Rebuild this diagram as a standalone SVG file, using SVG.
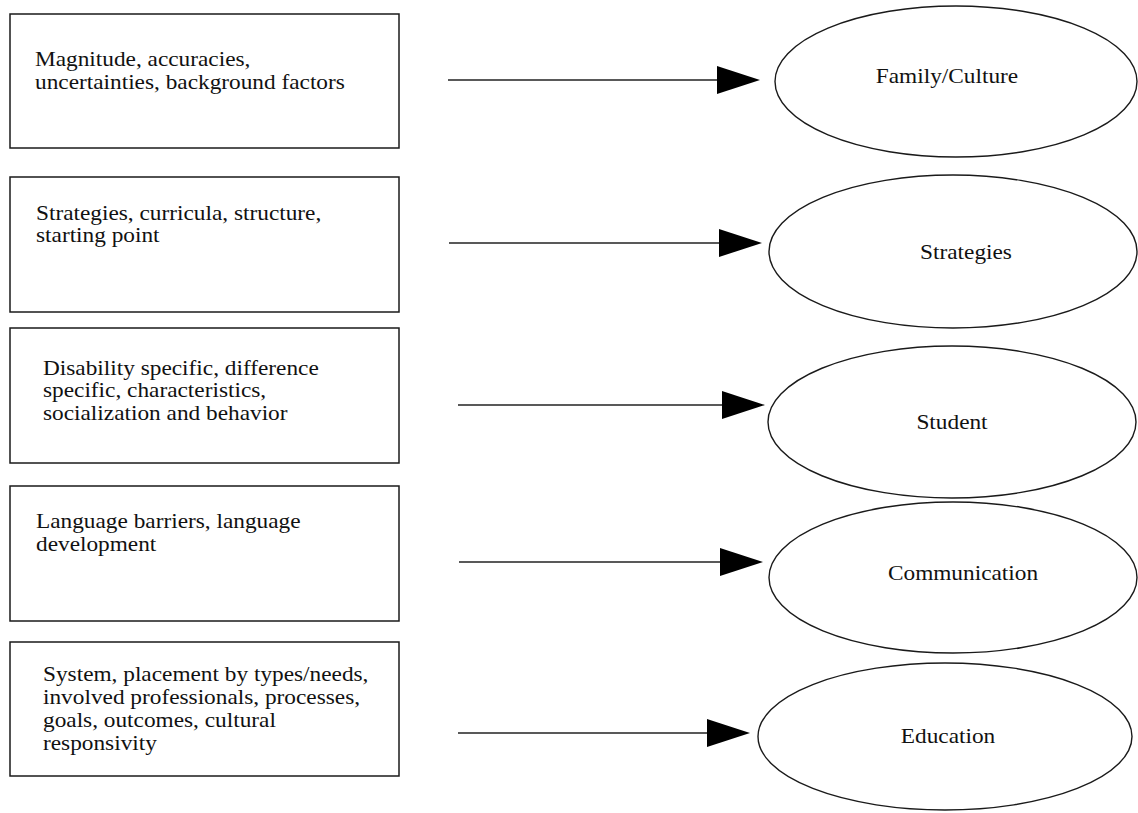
<svg xmlns="http://www.w3.org/2000/svg" width="1138" height="813" viewBox="0 0 1138 813">
<style>
.box{fill:#fff;stroke:#1a1a1a;stroke-width:1.5}
.ell{fill:#fff;stroke:#1a1a1a;stroke-width:1.4}
.t{font-family:"Liberation Serif","Times New Roman",serif;font-size:21px;fill:#111}
.c{text-anchor:middle}
.conn{stroke:#222;stroke-width:1.5;fill:none}
</style>
<defs>
<marker id="ah" markerUnits="userSpaceOnUse" markerWidth="44" markerHeight="28" refX="0" refY="14" orient="auto">
<path d="M0,0 L43,14 L0,28 Z" fill="#000"/>
</marker>
</defs>
<rect width="1138" height="813" fill="#fff"/>
<g id="connectors">
<line class="conn" x1="448" y1="80" x2="717" y2="80" marker-end="url(#ah)"/>
<line class="conn" x1="449" y1="243" x2="719" y2="243" marker-end="url(#ah)"/>
<line class="conn" x1="458" y1="405" x2="722" y2="405" marker-end="url(#ah)"/>
<line class="conn" x1="459" y1="562" x2="720" y2="562" marker-end="url(#ah)"/>
<line class="conn" x1="458" y1="733" x2="707" y2="733" marker-end="url(#ah)"/>
</g>
<g id="box1"><rect class="box" x="10" y="14" width="389" height="134"/>
<g transform="translate(35,0) scale(1.11,1)">
<text class="t" x="0" y="66">Magnitude, accuracies,</text>
<text class="t" x="0" y="89">uncertainties, background factors</text></g></g>
<g id="box2"><rect class="box" x="10" y="177" width="389" height="135"/>
<g transform="translate(36,0) scale(1.11,1)">
<text class="t" x="0" y="220">Strategies, curricula, structure,</text>
<text class="t" x="0" y="242.5">starting point</text></g></g>
<g id="box3"><rect class="box" x="10" y="328" width="389" height="135"/>
<g transform="translate(43,0) scale(1.11,1)">
<text class="t" x="0" y="375">Disability specific, difference</text>
<text class="t" x="0" y="397.5">specific, characteristics,</text>
<text class="t" x="0" y="420">socialization and behavior</text></g></g>
<g id="box4"><rect class="box" x="10" y="486" width="389" height="135"/>
<g transform="translate(36,0) scale(1.11,1)">
<text class="t" x="0" y="528">Language barriers, language</text>
<text class="t" x="0" y="551">development</text></g></g>
<g id="box5"><rect class="box" x="10" y="642" width="389" height="134"/>
<g transform="translate(43,0) scale(1.11,1)">
<text class="t" x="0" y="681">System, placement by types/needs,</text>
<text class="t" x="0" y="704">involved professionals, processes,</text>
<text class="t" x="0" y="727">goals, outcomes, cultural</text>
<text class="t" x="0" y="750">responsivity</text></g></g>
<g id="family"><ellipse class="ell" cx="956" cy="81.5" rx="181" ry="75.5"/>
<g transform="translate(947,0) scale(1.11,1)"><text class="t c" x="0" y="83">Family/Culture</text></g></g>
<g id="strategies"><ellipse class="ell" cx="953" cy="251.5" rx="184" ry="76.5"/>
<g transform="translate(966,0) scale(1.11,1)"><text class="t c" x="0" y="259">Strategies</text></g></g>
<g id="student"><ellipse class="ell" cx="952" cy="422" rx="184" ry="76"/>
<g transform="translate(952,0) scale(1.11,1)"><text class="t c" x="0" y="429">Student</text></g></g>
<g id="communication"><ellipse class="ell" cx="953" cy="577.5" rx="184" ry="75.5"/>
<g transform="translate(963,0) scale(1.11,1)"><text class="t c" x="0" y="580">Communication</text></g></g>
<g id="education"><ellipse class="ell" cx="945" cy="736.5" rx="187" ry="73.5"/>
<g transform="translate(948,0) scale(1.11,1)"><text class="t c" x="0" y="743">Education</text></g></g>
</svg>
